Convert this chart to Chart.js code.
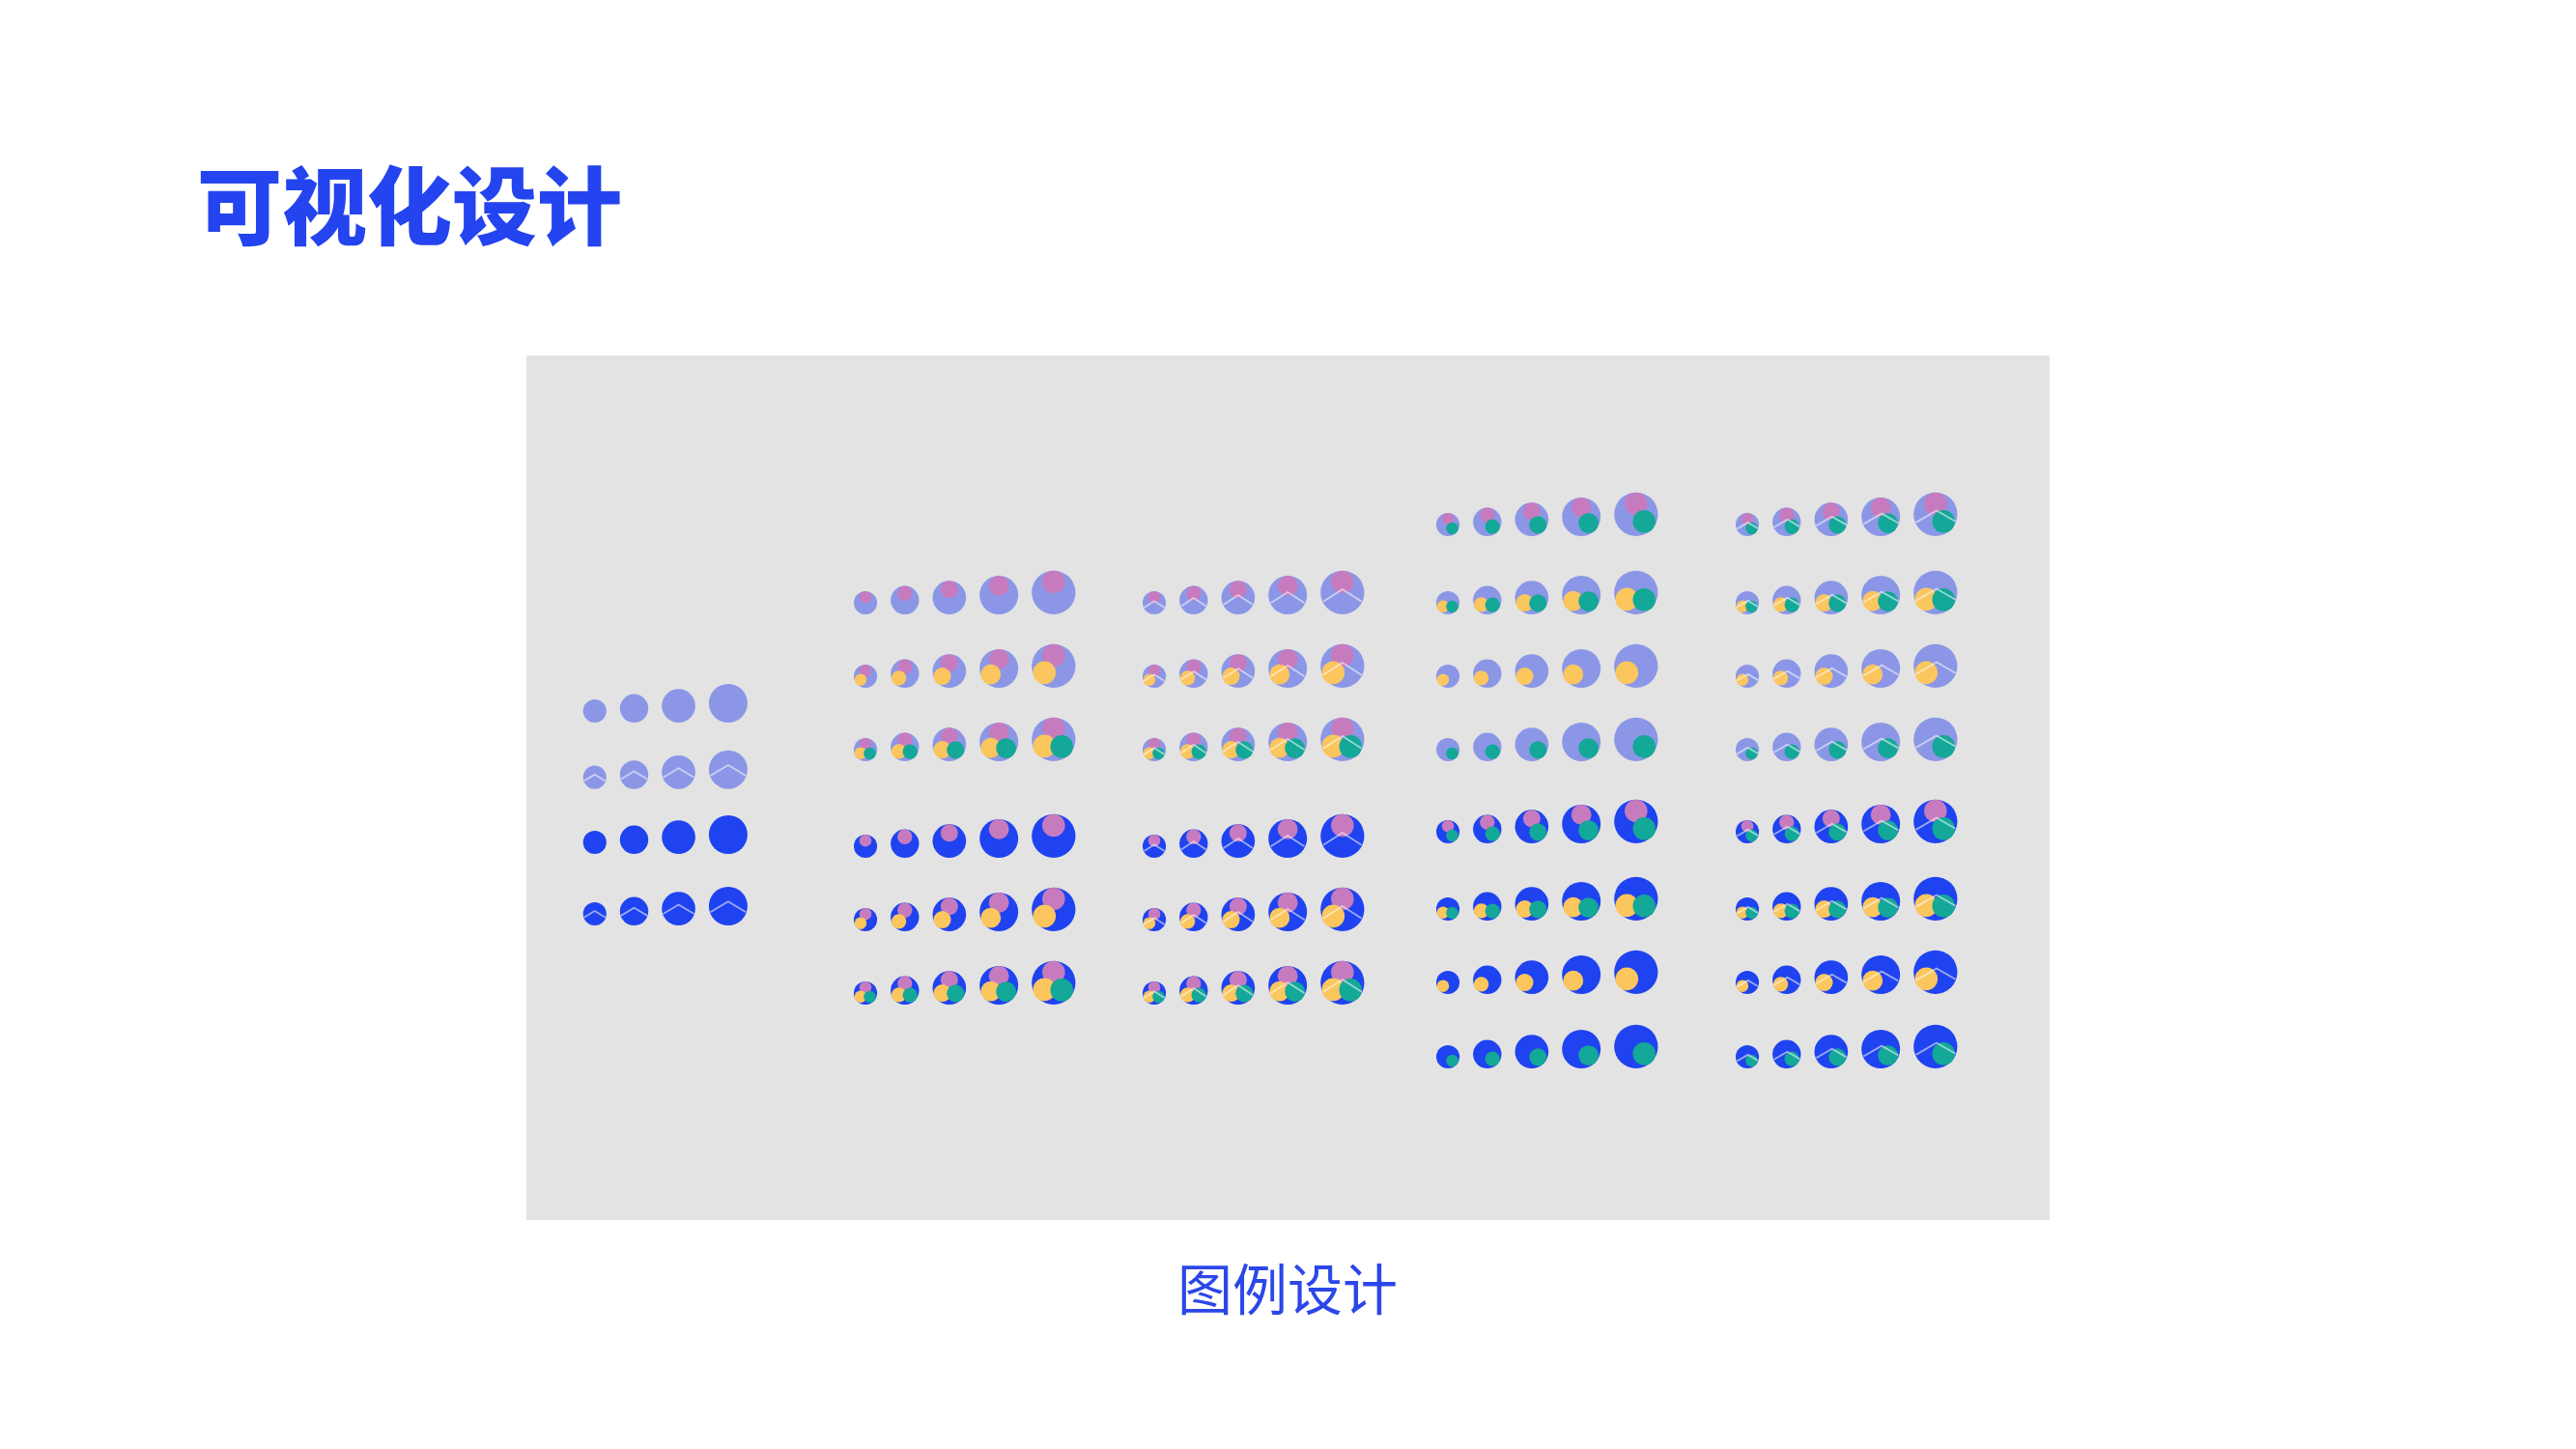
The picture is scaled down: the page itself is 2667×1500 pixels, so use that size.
<!DOCTYPE html>
<html>
<head>
<meta charset="utf-8">
<script src="https://cdn.jsdelivr.net/npm/chart.js@4.4.1/dist/chart.umd.min.js"></script>
<style>
  html, body { margin: 0; padding: 0; background: #ffffff; width: 2667px; height: 1500px; overflow: hidden; }
  #panel { position: absolute; left: 545px; top: 368px; width: 1577px; height: 895px; background: #e3e3e3; }
  #title { position: absolute; left: 204px; top: 164px; font-family: "Noto Sans CJK SC", sans-serif; font-weight: 900;
           font-size: 88px; line-height: 1; color: #2444ef; white-space: nowrap; }
  #caption { position: absolute; left: 1333px; top: 1303px; transform: translateX(-50%); font-family: "Noto Sans CJK SC", sans-serif;
             font-weight: 400; font-size: 57px; line-height: 1; color: #2b47e8; white-space: nowrap; }
  #wrap { position: absolute; left: 0; top: 0; width: 2667px; height: 1500px; }
</style>
</head>
<body>
<div id="panel"></div>
<div id="title">可视化设计</div>
<div id="caption">图例设计</div>
<div id="wrap"><canvas id="c" width="2667" height="1500"></canvas></div>
<script>
// ---------------- DATA ----------------
// size level of each column (bubble magnitude)
const sizes4 = [1, 2, 3, 4];
const sizes5 = [1, 2, 3, 4, 5];

// Group 1: base circles only
const g1Tones = ['light', 'light', 'dark', 'dark'];
const g1Parts = ['', '', '', ''];
const g1Waves = [false, true, false, true];

// Group 2 / 3: pink, pink+yellow, pink+yellow+teal
const g2Tones = ['light', 'light', 'light', 'dark', 'dark', 'dark'];
const g2Parts = ['P', 'PY', 'PYT', 'P', 'PY', 'PYT'];
const g2Waves = [false, false, false, false, false, false];
const g3Tones = ['light', 'light', 'light', 'dark', 'dark', 'dark'];
const g3Parts = ['P', 'PY', 'PYT', 'P', 'PY', 'PYT'];
const g3Waves = [true, true, true, true, true, true];

// Group 4 / 5: pink+teal, yellow+teal, yellow, teal
const g4Tones = ['light', 'light', 'light', 'light', 'dark', 'dark', 'dark', 'dark'];
const g4Parts = ['PT', 'YT', 'Y', 'T', 'PT', 'YT', 'Y', 'T'];
const g4Waves = [false, false, false, false, false, false, false, false];
const g5Tones = ['light', 'light', 'light', 'light', 'dark', 'dark', 'dark', 'dark'];
const g5Parts = ['PT', 'YT', 'Y', 'T', 'PT', 'YT', 'Y', 'T'];
const g5Waves = [true, true, true, true, true, true, true, true];

// ---------------- STYLE / LAYOUT ----------------
const colors = { light: '#8b97e6', dark: '#1f43f0', P: '#c77bbf', Y: '#fbc65e', T: '#13a897' };
const waveColor = 'rgba(255,255,255,0.55)';
const radiusOf = v => 9.4 + 2.65 * v;
const gap = 14;
const subRatio = 0.52;
const subOffset = { P: [0, -0.48], Y: [-0.42, 0.31], T: [0.37, 0.33] };

const groups = [
  { sizes: sizes4, tones: g1Tones, parts: g1Parts, waves: g1Waves, left: 603.7,
    base: [748, 816.7, 884, 958], wave: { px: 0, py: -0.24, s: 0.6 } },
  { sizes: sizes5, tones: g2Tones, parts: g2Parts, waves: g2Waves, left: 884,
    base: [636, 712, 788, 888, 964, 1040], wave: null },
  { sizes: sizes5, tones: g3Tones, parts: g3Parts, waves: g3Waves, left: 1183,
    base: [636, 712, 788, 888, 964, 1040], wave: { px: 0, py: -0.15, s: 0.65 } },
  { sizes: sizes5, tones: g4Tones, parts: g4Parts, waves: g4Waves, left: 1487,
    base: [555, 636, 712, 788, 873, 953, 1029, 1106], wave: null },
  { sizes: sizes5, tones: g5Tones, parts: g5Parts, waves: g5Waves, left: 1797,
    base: [555, 636, 712, 788, 873, 953, 1029, 1106], wave: { px: 0.05, py: -0.17, s: 0.58 } }
];

// ---------------- BUILD POINTS ----------------
const mains = [], subs = { P: [], Y: [], T: [] }, waves = [];

function edgePoint(px, py, dx, dy) {
  const n = Math.hypot(dx, dy); dx /= n; dy /= n;
  const b = px * dx + py * dy;
  const c = px * px + py * py - 0.94;
  const t = -b + Math.sqrt(b * b - c);
  return [px + t * dx, py + t * dy];
}

groups.forEach(g => {
  let cursor = g.left;
  const centers = g.sizes.map(v => { const r = radiusOf(v); const c = cursor + r; cursor += 2 * r + gap; return c; });
  g.tones.forEach((tone, ri) => {
    g.sizes.forEach((v, ci) => {
      const R = radiusOf(v);
      const x = centers[ci];
      const y = g.base[ri] - R;
      mains.push({ x, y, r: R, tone });
      for (const p of g.parts[ri]) {
        const [dx, dy] = subOffset[p];
        subs[p].push({ x: x + dx * R, y: y + dy * R, r: R * subRatio });
      }
      if (g.waves[ri] && g.wave) {
        const w = g.wave;
        const L = edgePoint(w.px, w.py, -1, w.s);
        const Rt = edgePoint(w.px, w.py, 1, w.s);
        waves.push({ x: x + L[0] * R, y: y + L[1] * R });
        waves.push({ x: x + w.px * R, y: y + w.py * R });
        waves.push({ x: x + Rt[0] * R, y: y + Rt[1] * R });
        waves.push({ x: x, y: null });
      }
    });
  });
});

// ---------------- CHART ----------------
new Chart(document.getElementById('c'), {
  type: 'bubble',
  data: {
    datasets: [
      { label: 'base', data: mains, order: 5, borderWidth: 0,
        backgroundColor: ctx => colors[ctx.raw ? ctx.raw.tone : 'light'] },
      { label: 'pink', data: subs.P, order: 4, borderWidth: 0, backgroundColor: colors.P },
      { label: 'yellow', data: subs.Y, order: 3, borderWidth: 0, backgroundColor: colors.Y },
      { label: 'teal', data: subs.T, order: 2, borderWidth: 0, backgroundColor: colors.T },
      { type: 'line', label: 'wave', data: waves, order: 1, borderColor: waveColor, borderWidth: 1.8,
        pointRadius: 0, fill: false, tension: 0, spanGaps: false, borderJoinStyle: 'round' }
    ]
  },
  options: {
    responsive: false,
    animation: false,
    events: [],
    layout: { padding: 0, autoPadding: false },
    scales: {
      x: { type: 'linear', min: 0, max: 2667, display: false },
      y: { type: 'linear', min: 0, max: 1500, reverse: true, display: false }
    },
    plugins: { legend: { display: false }, tooltip: { enabled: false } }
  }
});
</script>
</body>
</html>
